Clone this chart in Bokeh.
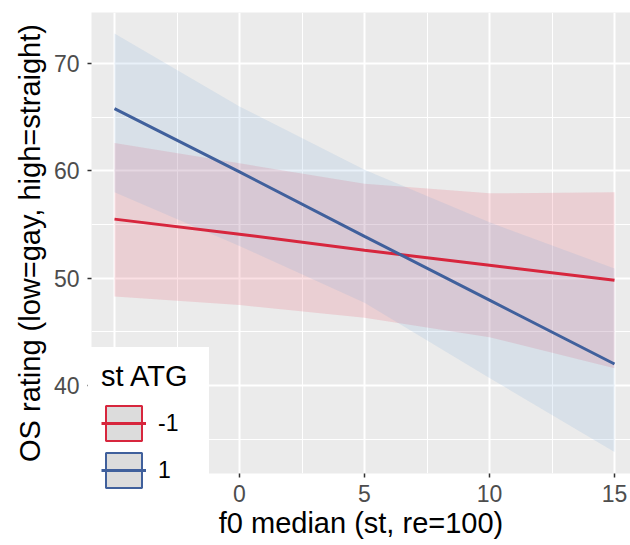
from bokeh.plotting import figure
from bokeh.models import Range1d, FixedTicker, Legend, LegendItem
from bokeh.layouts import column
from bokeh.embed import file_html
from bokeh.resources import INLINE

# ---- data ----
groups = ["-1", "1"]
x_pts = [-5, 0, 5, 10, 15]
red_fit = [55.5, 54.1, 52.6, 51.2, 49.8]
red_lo = [48.3, 47.5, 46.3, 44.5, 41.6]
red_hi = [62.6, 60.7, 58.8, 57.9, 58.0]
blue_fit = [65.8, 59.9, 53.9, 47.95, 42.0]
blue_lo = [58.0, 53.0, 47.7, 40.7, 33.8]
blue_hi = [72.8, 66.0, 60.1, 55.2, 50.9]
x_ticks = [-5, 0, 5, 10, 15]
x_minor = [-2.5, 2.5, 7.5, 12.5]
y_ticks = [40, 50, 60, 70]
y_minor = [35, 45, 55, 65]

RED = "#D7263D"
BLUE = "#40609C"
FONT = "Liberation Sans"

p = figure(frame_width=539, frame_height=461,
           x_range=Range1d(-5.92, 15.64), y_range=Range1d(31.80, 74.75),
           output_backend="svg", toolbar_location=None,
           min_border_left=91, min_border_right=0, min_border_top=12, min_border_bottom=72,
           x_axis_label="f0 median (st, re=100)",
           y_axis_label="OS rating (low=gay, high=straight)")
p.background_fill_color = "#EBEBEB"
p.border_fill_color = "white"
p.outline_line_color = None

p.xaxis.ticker = FixedTicker(ticks=x_ticks, minor_ticks=x_minor)
p.yaxis.ticker = FixedTicker(ticks=y_ticks, minor_ticks=y_minor)
p.grid.grid_line_color = "white"
p.grid.grid_line_width = 2
p.grid.minor_grid_line_color = "white"
p.grid.minor_grid_line_width = 1

for ax in (p.xaxis[0], p.yaxis[0]):
    ax.axis_line_color = None
    ax.major_tick_line_color = "#333333"
    ax.major_tick_line_width = 1.5
    ax.major_tick_out = 4
    ax.major_tick_in = 0
    ax.minor_tick_line_color = None
    ax.major_label_text_font = FONT
    ax.major_label_text_font_size = "23px"
    ax.major_label_text_color = "#4D4D4D"
    ax.axis_label_text_font = FONT
    ax.axis_label_text_font_size = "29px"
    ax.axis_label_text_font_style = "normal"
    ax.axis_label_text_color = "black"
p.xaxis.major_label_standoff = 7
p.yaxis.major_label_standoff = 8
p.xaxis.axis_label_standoff = 2
p.yaxis.axis_label_standoff = 5

# ribbons
p.varea(x=x_pts, y1=red_lo, y2=red_hi, fill_color="#E8415A", fill_alpha=0.16)
p.varea(x=x_pts, y1=blue_lo, y2=blue_hi, fill_color="#78AADC", fill_alpha=0.16)
# lines
p.line(x_pts, red_fit, line_color=RED, line_width=3)
p.line(x_pts, blue_fit, line_color=BLUE, line_width=3)

# ---- transparent legend layer, overlaid on the bottom part of the plot ----
lp = figure(width=212, height=198, x_range=Range1d(100, 101), y_range=Range1d(100, 101),
            output_backend="svg", toolbar_location=None,
            x_axis_location=None, y_axis_location=None,
            min_border=0, min_border_left=0, min_border_right=0,
            min_border_top=0, min_border_bottom=0)
lp.frame_align = False
lp.background_fill_alpha = 0
lp.border_fill_alpha = 0
lp.outline_line_color = None
lp.grid.visible = False

# legend-only renderers (their data lie outside this layer's ranges)
kr = lp.patch(x=x_pts + x_pts[::-1], y=red_lo + red_hi[::-1],
              fill_color="#DCDCDC", line_color=RED, line_width=2)
lr = lp.line(x_pts, red_fit, line_color=RED, line_width=3)
kb = lp.patch(x=x_pts + x_pts[::-1], y=blue_lo + blue_hi[::-1],
              fill_color="#DCDCDC", line_color=BLUE, line_width=2)
lb = lp.line(x_pts, blue_fit, line_color=BLUE, line_width=3)

legend = Legend(items=[LegendItem(label=groups[0], renderers=[kr, lr]),
                       LegendItem(label=groups[1], renderers=[kb, lb])],
                location=(88, 40), title="st ATG")
legend.title_text_font = FONT
legend.title_text_font_size = "29px"
legend.title_text_font_style = "normal"
legend.title_text_color = "black"
legend.title_standoff = 8
legend.label_text_font = FONT
legend.label_text_font_size = "23px"
legend.label_text_color = "black"
legend.glyph_width = 45
legend.glyph_height = 44
legend.label_height = 44
legend.label_width = 38
legend.label_standoff = 12
legend.spacing = 3
legend.padding = 12
legend.margin = 0
legend.border_line_color = "white"
legend.border_line_width = 1
legend.background_fill_color = "white"
legend.background_fill_alpha = 1
lp.add_layout(legend, "center")
lp.margin = (-198, 0, 0, 0)

layout = column(p, lp)
open("out.html", "w").write(file_html(layout, INLINE))
